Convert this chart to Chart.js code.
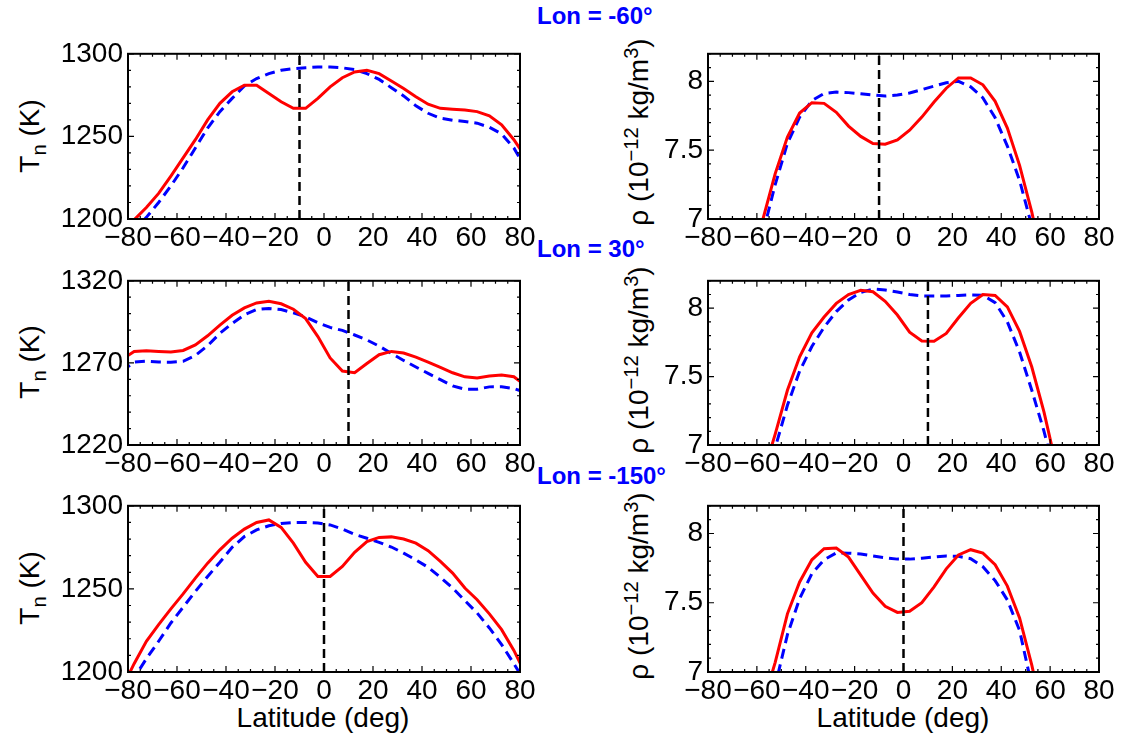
<!DOCTYPE html>
<html>
<head>
<meta charset="utf-8">
<script src="https://cdn.jsdelivr.net/npm/chart.js@4"></script>
<style>
  body { margin: 0; background: #fff; }
  #fig { position: relative; width: 1122px; height: 738px; background: #fff; overflow: hidden;
         font-family: "Liberation Sans", Arial, sans-serif; color: #000; }
  #fig canvas { position: absolute; }
  .ytitle { position: absolute; font-size: 28px; white-space: nowrap; line-height: 1;
            transform: translate(-50%, -50%) rotate(-90deg); }
  .ytitle sub, .ytitle sup { font-size: 0.72em; line-height: 0; }
  .xtitle { position: absolute; font-size: 28px; white-space: nowrap; transform: translate(-50%, -50%); }
  .lon { position: absolute; font-size: 24px; font-weight: bold; color: #0000ff; white-space: nowrap;
         transform: translateY(-50%); }
</style>
</head>
<body>
<div id="fig">
  <div class="lon" style="left:537px;top:16px">Lon = -60°</div>
  <div class="lon" style="left:537px;top:249px">Lon = 30°</div>
  <div class="lon" style="left:537px;top:476px">Lon = -150°</div>

  <div class="ytitle" style="left:30px;top:136px">T<sub>n</sub> (K)</div>
  <div class="ytitle" style="left:30px;top:362px">T<sub>n</sub> (K)</div>
  <div class="ytitle" style="left:30px;top:588px">T<sub>n</sub> (K)</div>
  <div class="ytitle" style="left:639px;top:132px">ρ (10<sup>−12</sup> kg/m<sup>3</sup>)</div>
  <div class="ytitle" style="left:639px;top:360px">ρ (10<sup>−12</sup> kg/m<sup>3</sup>)</div>
  <div class="ytitle" style="left:639px;top:586px">ρ (10<sup>−12</sup> kg/m<sup>3</sup>)</div>

  <div class="xtitle" style="left:323px;top:718px">Latitude (deg)</div>
  <div class="xtitle" style="left:903px;top:718px">Latitude (deg)</div>
</div>
<script>
// latitude grid of the model output (deg)
const lat = [-82.5, -77.5, -72.5, -67.5, -62.5, -57.5, -52.5, -47.5, -42.5, -37.5, -32.5, -27.5,
  -22.5, -17.5, -12.5, -7.5, -2.5, 2.5, 7.5, 12.5, 17.5, 22.5, 27.5, 32.5, 37.5, 42.5, 47.5,
  52.5, 57.5, 62.5, 67.5, 72.5, 77.5, 82.5];

// Lon = -60
const tnRed1 = [1191, 1199.5, 1207, 1215.5, 1226, 1237, 1248, 1260, 1270, 1277, 1281, 1281,
  1276, 1271, 1267, 1267, 1273, 1280, 1285.5, 1289, 1290, 1288, 1283.5, 1279, 1274, 1269.5, 1267,
  1266.5, 1266, 1265, 1262.5, 1257, 1248, 1237];
const tnBlue1 = [1185, 1193, 1201, 1210, 1220, 1231, 1243, 1255, 1265, 1273, 1280.5, 1285,
  1288, 1290, 1291, 1291.6, 1292, 1292, 1291.5, 1290.4, 1288, 1284.5, 1279.5, 1274.5, 1268.5, 1264, 1261,
  1259.8, 1259, 1258, 1255.5, 1251.5, 1243, 1230];
const rhoRed1 = [null, null, null, 6.4, 6.7, 7.0, 7.33, 7.595, 7.77, 7.845, 7.84, 7.775,
  7.675, 7.6, 7.548, 7.543, 7.575, 7.645, 7.74, 7.85, 7.95, 8.025, 8.025, 7.975, 7.855, 7.66, 7.39,
  7.05, 6.65, 6.2, null, null, null, null];
const rhoBlue1 = [null, null, null, null, 6.45, 6.9, 7.25, 7.55, 7.74, 7.86, 7.912, 7.922,
  7.918, 7.91, 7.9, 7.893, 7.9, 7.915, 7.94, 7.965, 7.99, 8.0, 7.96, 7.88, 7.735, 7.53, 7.28,
  6.95, 6.55, 6.1, null, null, null, null];

// Lon = 30
const tnRed2 = [1272, 1277, 1277.4, 1277, 1276.6, 1277.6, 1281, 1286.5, 1293, 1299, 1303.5, 1306.5,
  1307.5, 1306, 1302.7, 1297, 1286, 1273, 1265, 1264, 1269.6, 1275, 1277, 1276, 1273.5, 1270.5, 1267.3,
  1264, 1261.5, 1260.8, 1262, 1262.6, 1261.6, 1256];
const tnBlue2 = [1265, 1270.5, 1271, 1270.5, 1270.4, 1271, 1274.5, 1280.5, 1288, 1294, 1299.3, 1302.5,
  1303.2, 1302.5, 1300.5, 1298, 1294.5, 1291.6, 1289.8, 1287, 1284, 1280.2, 1275.8, 1271.5, 1267.5, 1263.6, 1259.8,
  1256, 1254, 1254, 1255.4, 1255.5, 1254.4, 1251.8];
const rhoRed2 = [null, null, null, null, 6.45, 6.78, 7.08, 7.4, 7.645, 7.82, 7.935, 8.035,
  8.1, 8.13, 8.12, 8.05, 7.95, 7.825, 7.76, 7.758, 7.815, 7.93, 8.035, 8.1, 8.093, 8.01, 7.83,
  7.57, 7.24, 6.85, 6.4, null, null, null];
const rhoBlue2 = [null, null, null, null, 6.35, 6.7, 6.98, 7.29, 7.54, 7.72, 7.86, 7.975,
  8.06, 8.115, 8.14, 8.133, 8.118, 8.1, 8.09, 8.089, 8.089, 8.093, 8.097, 8.095, 8.04, 7.9, 7.68,
  7.4, 7.1, 6.75, null, null, null, null];

// Lon = -150
const tnRed3 = [1190, 1205, 1218.5, 1228.5, 1238, 1247, 1256.5, 1265.5, 1273.5, 1280.5, 1286, 1290,
  1291.5, 1287, 1277.5, 1266, 1257.5, 1257.5, 1263.5, 1272, 1278.5, 1281, 1281.3, 1280, 1277.5, 1273, 1266.5,
  1259.5, 1250.5, 1243.5, 1235, 1225.5, 1213, 1198];
const tnBlue3 = [1186, 1196.5, 1208, 1218.5, 1229.5, 1239, 1248.5, 1257.5, 1266, 1275, 1281.5, 1285.5,
  1288, 1289.4, 1290, 1290, 1289.7, 1288.5, 1286, 1282.8, 1280.5, 1278, 1275.2, 1271.5, 1267.5, 1263, 1257,
  1250.5, 1243, 1235.5, 1226.5, 1216.5, 1205, 1193];
const rhoRed3 = [null, null, null, null, 6.5, 6.77, 7.07, 7.42, 7.65, 7.81, 7.89, 7.895,
  7.83, 7.7, 7.57, 7.475, 7.43, 7.438, 7.5, 7.615, 7.745, 7.845, 7.883, 7.858, 7.775, 7.62, 7.39,
  7.05, 6.65, null, null, null, null, null];
const rhoBlue3 = [null, null, null, null, 6.2, 6.55, 6.9, 7.27, 7.53, 7.71, 7.81, 7.86,
  7.858, 7.852, 7.838, 7.825, 7.815, 7.815, 7.822, 7.83, 7.838, 7.835, 7.818, 7.76, 7.66, 7.52, 7.3,
  6.9, 6.5, null, null, null, null, null];

// latitude of the dashed marker in each row
const markerLat = [-10, 10, 0];

// axis ranges and tick labels
const xRange = [-80, 80];
const xTicks = [-80, -60, -40, -20, 0, 20, 40, 60, 80];
const tnRanges = [[1200, 1300], [1220, 1320], [1200, 1300]];
const tnTicks = [[1200, 1250, 1300], [1220, 1270, 1320], [1200, 1250, 1300]];
const rhoRange = [7, 8.2];
const rhoTicks = [7, 7.5, 8];

const tnRed = [tnRed1, tnRed2, tnRed3];
const tnBlue = [tnBlue1, tnBlue2, tnBlue3];
const rhoRed = [rhoRed1, rhoRed2, rhoRed3];
const rhoBlue = [rhoBlue1, rhoBlue2, rhoBlue3];

// page layout (px)
const rowBox = [[52, 219], [279, 445], [504, 672]];
const colBox = [{ origin: 0, left: 128, right: 520 }, { origin: 560, left: 708, right: 1099 }];
const PAD_TOP = 20, PAD_RIGHT = 22, XAXIS_H = 46;

const FONT = { family: '"Liberation Sans", Arial, sans-serif', size: 28 };

// frame + inward ticks on all four sides, like the IDL plot
const framePlugin = {
  id: 'frame',
  afterDatasetsDraw(chart, args, opts) {
    const { ctx, chartArea: a, scales } = chart;
    const xs = scales.x, ys = scales.y;
    ctx.save();
    ctx.strokeStyle = '#000';
    ctx.lineWidth = 1.2;
    const tick = (px, len, vertical) => {
      ctx.beginPath();
      if (vertical) {
        ctx.moveTo(px, a.bottom); ctx.lineTo(px, a.bottom - len);
        ctx.moveTo(px, a.top); ctx.lineTo(px, a.top + len);
      } else {
        ctx.moveTo(a.left, px); ctx.lineTo(a.left + len, px);
        ctx.moveTo(a.right, px); ctx.lineTo(a.right - len, px);
      }
      ctx.stroke();
    };
    for (let v = xs.min; v <= xs.max + 1e-9; v += opts.xMinor) {
      const major = Math.abs(v / opts.xMajor - Math.round(v / opts.xMajor)) < 1e-6;
      tick(xs.getPixelForValue(v), major ? 6 : 3, true);
    }
    const n = Math.round((ys.max - ys.min) / opts.yMinor);
    for (let i = 0; i <= n; i++) {
      const v = ys.min + i * opts.yMinor;
      const major = Math.abs((v - opts.yBase) / opts.yMajor - Math.round((v - opts.yBase) / opts.yMajor)) < 1e-6;
      tick(ys.getPixelForValue(v), major ? 6 : 3, false);
    }
    ctx.lineWidth = 2;
    ctx.strokeRect(a.left, a.top, a.right - a.left, a.bottom - a.top);
    ctx.restore();
  }
};

function fmtLat(v) { return v < 0 ? '\u2212' + Math.abs(v) : String(v); }

function makePanel(row, col, red, blue, yRange, yTicks, frameOpts) {
  const [top, bottom] = rowBox[row];
  const c = colBox[col];
  const canvas = document.createElement('canvas');
  const w = c.right + PAD_RIGHT - c.origin;
  const h = bottom - top + PAD_TOP + XAXIS_H;
  canvas.width = w; canvas.height = h;
  canvas.style.left = c.origin + 'px';
  canvas.style.top = (top - PAD_TOP) + 'px';
  canvas.style.width = w + 'px'; canvas.style.height = h + 'px';
  document.getElementById('fig').appendChild(canvas);

  const pts = vals => lat.map((x, i) => ({ x, y: vals[i] }));
  new Chart(canvas, {
    type: 'line',
    data: {
      datasets: [
        { data: [{ x: markerLat[row], y: yRange[0] }, { x: markerLat[row], y: yRange[1] }],
          borderColor: '#000', borderWidth: 2.5, borderDash: [9, 5] },
        { data: pts(red), borderColor: '#ff0000', borderWidth: 3 },
        { data: pts(blue), borderColor: '#0000ff', borderWidth: 3, borderDash: [10, 6] }
      ]
    },
    options: {
      responsive: false,
      animation: false,
      devicePixelRatio: 1,
      layout: { padding: { top: PAD_TOP, right: PAD_RIGHT, left: 0, bottom: 0 } },
      elements: { point: { radius: 0 }, line: { tension: 0, fill: false } },
      spanGaps: false,
      plugins: { legend: { display: false }, tooltip: { enabled: false }, frame: frameOpts },
      scales: {
        x: {
          type: 'linear', min: xRange[0], max: xRange[1],
          grid: { display: false, drawTicks: false }, border: { display: false },
          afterBuildTicks: s => { s.ticks = xTicks.map(v => ({ value: v })); },
          afterFit: s => { s.height = XAXIS_H; },
          ticks: { color: '#000', font: FONT, padding: 2, maxRotation: 0, autoSkip: false,
                   callback: v => fmtLat(v) }
        },
        y: {
          type: 'linear', min: yRange[0], max: yRange[1],
          grid: { display: false, drawTicks: false }, border: { display: false },
          afterBuildTicks: s => { s.ticks = yTicks.map(v => ({ value: v })); },
          afterFit: s => { s.width = c.left - c.origin; },
          ticks: { color: '#000', font: FONT, padding: 5, autoSkip: false,
                   callback: v => String(v) }
        }
      }
    },
    plugins: [framePlugin]
  });
}

for (let r = 0; r < 3; r++) {
  makePanel(r, 0, tnRed[r], tnBlue[r], tnRanges[r], tnTicks[r],
    { xMajor: 20, xMinor: 5, yMajor: 50, yMinor: 10, yBase: tnRanges[r][0] });
  makePanel(r, 1, rhoRed[r], rhoBlue[r], rhoRange, rhoTicks,
    { xMajor: 20, xMinor: 5, yMajor: 0.5, yMinor: 0.1, yBase: rhoRange[0] });
}
</script>
</body>
</html>
